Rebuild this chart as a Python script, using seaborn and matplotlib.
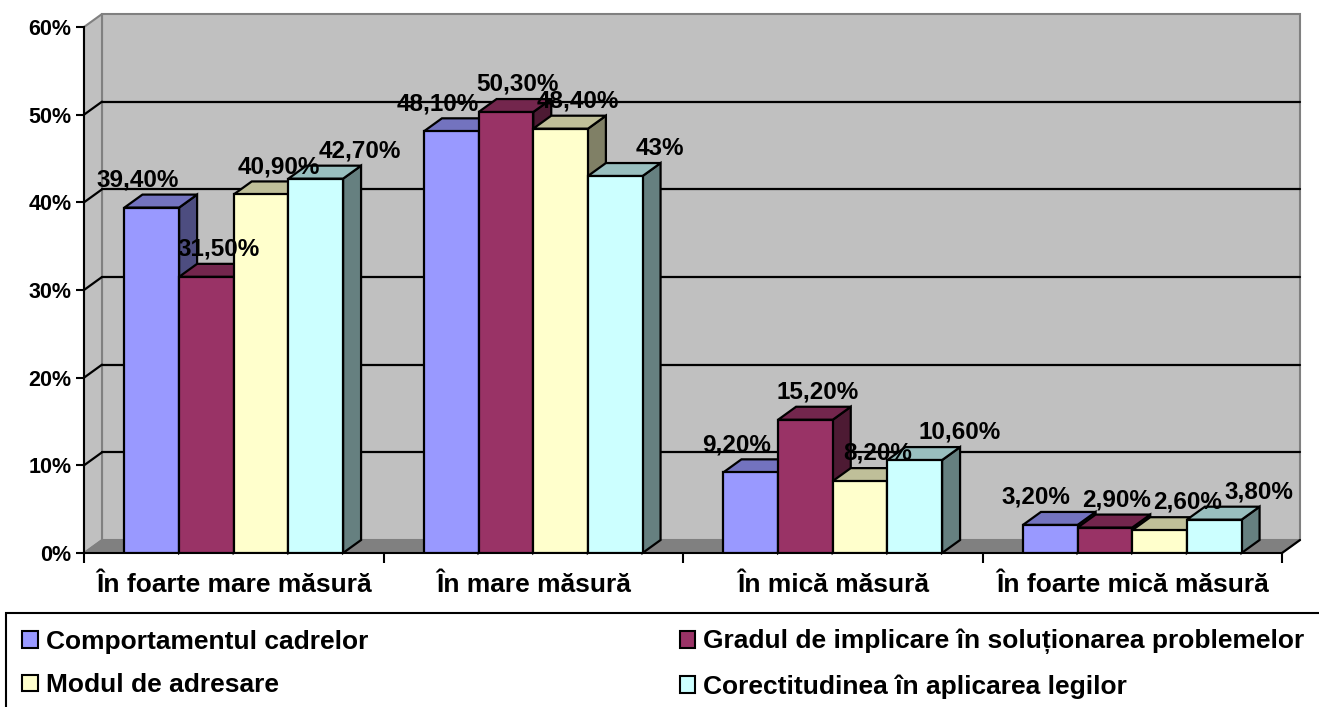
import numpy as np
import pandas as pd
import matplotlib
matplotlib.use("Agg")
import matplotlib.pyplot as plt
import matplotlib.transforms as mtransforms
from matplotlib.patches import Polygon, Rectangle, Patch
import seaborn as sns

# ---------------- data ----------------
categories = ["În foarte mare măsură", "În mare măsură", "În mică măsură", "În foarte mică măsură"]
series_names = ["Comportamentul cadrelor",
                "Gradul de implicare în soluționarea problemelor",
                "Modul de adresare",
                "Corectitudinea în aplicarea legilor"]
comportament = [39.4, 48.1, 9.2, 3.2]
gradul = [31.5, 50.3, 15.2, 2.9]
modul = [40.9, 48.4, 8.2, 2.6]
corectitudinea = [42.7, 43.0, 10.6, 3.8]
y_ticks = [0, 10, 20, 30, 40, 50, 60]
y_tick_labels = ["0%", "10%", "20%", "30%", "40%", "50%", "60%"]

# ---------------- style ----------------
colors = ["#9999FF", "#993366", "#FFFFCC", "#CCFFFF"]
label_dx_pt = [-10, 8.5, 12.5, 32]   # label offsets per series (points)
DX, DY = 18, 13                      # 3-D depth in pixels

sns.set_theme(style="white")
plt.rcParams["font.family"] = ["Liberation Sans", "DejaVu Sans"]
plt.rcParams["font.weight"] = "bold"
for key in ["text.color", "axes.labelcolor", "xtick.color", "ytick.color", "xtick.labelcolor", "ytick.labelcolor"]:
    plt.rcParams[key] = "black"

W, H = 1319, 707
fig = plt.figure(figsize=(W / 100, H / 100), dpi=100)
fig.patch.set_facecolor("white")
ax = fig.add_axes([84 / W, (H - 553) / H, 1198 / W, 526 / H])
ax.set_facecolor("none")

df = pd.DataFrame({
    "Categorie": categories * 4,
    "Serie": np.repeat(series_names, len(categories)),
    "Valoare": comportament + gradul + modul + corectitudinea,
})

sns.barplot(data=df, x="Categorie", y="Valoare", hue="Serie",
            order=categories, hue_order=series_names, palette=colors,
            width=0.73, gap=0, saturation=1, edgecolor="black", linewidth=1.6,
            errorbar=None, legend=False, ax=ax)

ax.set_xlim(-0.5, 3.5)
ax.set_ylim(0, 60)
ax.set_xlabel("")
ax.set_ylabel("")

ID = mtransforms.IdentityTransform()


def F(x, y):
    return ax.transData.transform((x, y))


def B(x, y):
    return ax.transData.transform((x, y)) + np.array([DX, DY])


x0a, x1a = ax.get_xlim()
# back wall
back_wall = Polygon([B(x0a, 0), B(x1a, 0), B(x1a, 60), B(x0a, 60)], closed=True,
                    facecolor="#C0C0C0", edgecolor="#808080", lw=1.5, transform=ID,
                    zorder=0.3, clip_on=False)
ax.add_patch(back_wall)
# side wall
side_wall = Polygon([F(x0a, 0), B(x0a, 0), B(x0a, 60), F(x0a, 60)], closed=True,
                    facecolor="#C0C0C0", edgecolor="#808080", lw=1.5, transform=ID,
                    zorder=0.35, clip_on=False)
ax.add_patch(side_wall)
# floor
floor = Polygon([F(x0a, 0), F(x1a, 0), B(x1a, 0), B(x0a, 0)], closed=True,
                facecolor="#808080", edgecolor="#808080", lw=1, transform=ID,
                zorder=0.4, clip_on=False)
ax.add_patch(floor)
# gridlines on back wall + side wall diagonals
for yv in y_ticks[1:-1]:
    p0, p1 = B(x0a, yv), B(x1a, yv)
    ax.plot([p0[0], p1[0]], [p0[1], p1[1]], color="black", lw=1.6,
            transform=ID, zorder=0.5, clip_on=False)
    q0, q1 = F(x0a, yv), B(x0a, yv)
    ax.plot([q0[0], q1[0]], [q0[1], q1[1]], color="black", lw=1.6,
            transform=ID, zorder=0.5, clip_on=False)
# right floor edge
r0, r1 = F(x1a, 0), B(x1a, 0)
ax.plot([r0[0], r1[0]], [r0[1], r1[1]], color="black", lw=1.6,
        transform=ID, zorder=0.5, clip_on=False)

# 3-D faces of bars
bars = []
for si, cont in enumerate(ax.containers):
    for p, v in zip(cont.patches, cont.datavalues):
        bars.append((p, si, v))
bars.sort(key=lambda t: t[0].get_x())


def shade(c, f):
    r, g, b = matplotlib.colors.to_rgb(c)
    return (r * f, g * f, b * f)


annots = []
for k, (p, si, v) in enumerate(bars):
    x0, w, h = p.get_x(), p.get_width(), p.get_height()
    p.set_zorder(3 + 2 * k + 1)
    top = Polygon([F(x0, h), F(x0 + w, h), B(x0 + w, h), B(x0, h)], closed=True,
                  facecolor=shade(colors[si], 0.75), edgecolor="black", lw=1.6,
                  transform=ID, zorder=3 + 2 * k, clip_on=False)
    side = Polygon([F(x0 + w, 0), F(x0 + w, h), B(x0 + w, h), B(x0 + w, 0)], closed=True,
                   facecolor=shade(colors[si], 0.5), edgecolor="black", lw=1.6,
                   transform=ID, zorder=3 + 2 * k, clip_on=False)
    ax.add_patch(side)
    ax.add_patch(top)
    txt = (f"{v:.0f}%" if float(v).is_integer() else f"{v:.2f}%").replace(".", ",")
    an = ax.annotate(txt, xy=(x0 + w / 2, h), xytext=(label_dx_pt[si], 20),
                     textcoords="offset points", ha="center", va="center",
                     fontsize=17.5, fontweight="bold", color="black", zorder=200,
                     annotation_clip=False)
    annots.append(an)

# axes / ticks
ax.set_yticks(y_ticks, y_tick_labels)
ax.tick_params(axis="y", which="major", direction="out", length=6, width=1.5,
               color="black", labelcolor="black", labelsize=15.5, pad=3, left=True)
ax.set_xticks(range(len(categories)), categories)
ax.set_xticks(np.arange(-0.5, len(categories), 1), minor=True)
ax.tick_params(axis="x", which="major", length=0, labelsize=19, pad=14.5,
               labelcolor="black")
ax.tick_params(axis="x", which="minor", direction="out", length=7, width=1.5,
               color="black", bottom=True)
for lab in ax.get_xticklabels() + ax.get_yticklabels():
    lab.set_fontweight("bold")
    lab.set_color("black")
for s in ["top", "right"]:
    ax.spines[s].set_visible(False)
for s in ["left", "bottom"]:
    ax.spines[s].set_color("black")
    ax.spines[s].set_linewidth(1.5)
    ax.spines[s].set_zorder(2.5)

# nudge neighbouring value labels apart when they clearly collide
fig.canvas.draw()
renderer = fig.canvas.get_renderer()
for i in range(1, len(annots)):
    prev, cur = annots[i - 1], annots[i]
    bp = prev.get_window_extent(renderer)
    bc = cur.get_window_extent(renderer)
    v_overlap = min(bp.y1, bc.y1) - max(bp.y0, bc.y0)
    h_over = bp.x1 - bc.x0 + 2
    if v_overlap > 12 and h_over > 0:
        dx, dy = cur.xyann
        cur.xyann = (dx + h_over * 72 / fig.dpi, dy)

# legend
order = [0, 2, 1, 3]
handles = [Patch(facecolor=colors[i], edgecolor="black", linewidth=1.5) for i in order]
labels = [series_names[i] for i in order]
leg = fig.legend(handles, labels, loc="upper left", bbox_to_anchor=(22 / W, 1 - 629 / H),
                 ncol=2, frameon=False, prop={"size": 19, "weight": "bold"},
                 handlelength=0.6, handleheight=0.6, handletextpad=0.3,
                 columnspacing=11.8, labelspacing=0.75, borderpad=0, borderaxespad=0)
for t in leg.get_texts():
    t.set_color("black")
fig.add_artist(Rectangle((6 / W, -0.2), 1.2, (1 - 613 / H) + 0.2,
                         transform=fig.transFigure, fill=False,
                         edgecolor="black", lw=1.5))

fig.savefig("out.png", dpi=100)
